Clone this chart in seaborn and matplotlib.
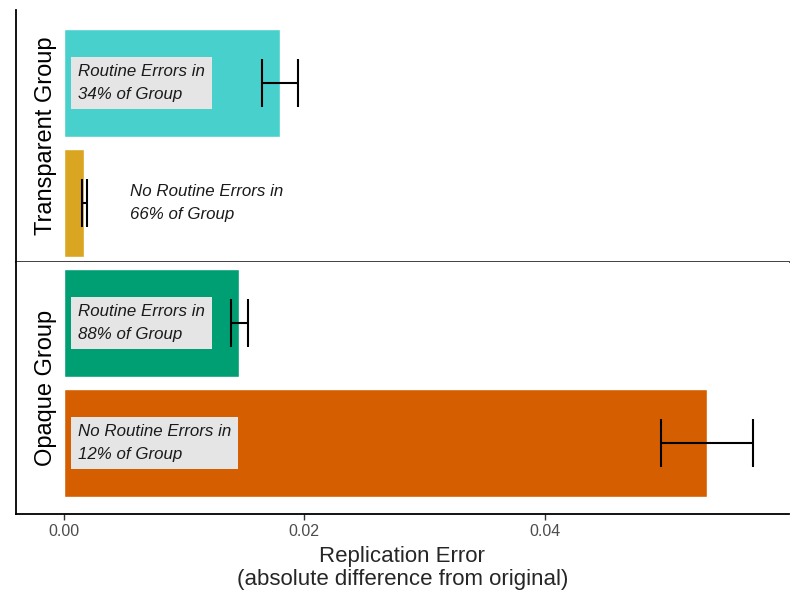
import numpy as np
import pandas as pd
import matplotlib
matplotlib.use("Agg")
import matplotlib.pyplot as plt
import seaborn as sns

# values
groups = ["Transparent Group", "Transparent Group", "Opaque Group", "Opaque Group"]
conditions = ["Routine Errors", "No Routine Errors", "Routine Errors", "No Routine Errors"]
error_mean = [0.0180, 0.0017, 0.0146, 0.0535]
error_se = [0.0015, 0.0002, 0.0007, 0.0038]
group_pct = [34, 66, 88, 12]
bar_colors = ["#48D1CC", "#DAA520", "#009E73", "#D55E00"]
label_x = [0.00116, 0.0055, 0.00116, 0.00116]
label_boxed = [True, False, True, True]
x_ticks = [0.00, 0.02, 0.04]

df = pd.DataFrame({
    "group": groups,
    "condition": conditions,
    "error": error_mean,
    "se": error_se,
    "pct": group_pct,
    "color": bar_colors,
    "lx": label_x,
    "boxed": label_boxed,
})

sns.set_style("white")
plt.rcParams["font.family"] = ["Liberation Sans", "DejaVu Sans"]

fig, axes = plt.subplots(2, 1, figsize=(8, 6), dpi=100, sharex=True)
fig.subplots_adjust(left=0.02, right=0.986, top=0.983, bottom=0.143, hspace=0)

panel_ylims = [(1.496, -0.604), (1.596, -0.508)]

for ax, grp, ylim in zip(axes, ["Transparent Group", "Opaque Group"], panel_ylims):
    sub = df[df["group"] == grp].reset_index(drop=True)
    sns.barplot(data=sub, x="error", y="condition", hue="condition",
                palette=dict(zip(sub["condition"], sub["color"])),
                order=list(sub["condition"]), orient="h", width=0.9,
                saturation=1, legend=False, errorbar=None, ax=ax)
    ax.errorbar(sub["error"], np.arange(len(sub)), xerr=sub["se"], fmt="none",
                ecolor="black", elinewidth=1.5, capsize=17, capthick=1.5, zorder=5)
    for i, row in sub.iterrows():
        txt = f"{row['condition']} in\n{row['pct']}% of Group"
        box = dict(boxstyle="square,pad=0.42", facecolor="#e5e5e5", edgecolor="none") if row["boxed"] else None
        ax.text(row["lx"], i, txt, ha="left", va="center", fontsize=12.2,
                style="italic", linespacing=1.65, color="#1a1a1a", bbox=box, zorder=6)
    ax.set_ylim(*ylim)
    ax.set_xlim(-0.00399, 0.0603)
    ax.set_ylabel("")
    ax.set_yticks([])
    ax.text(0.0385, 0.5, grp, transform=ax.transAxes, rotation=90,
            ha="center", va="center", fontsize=17, color="black")
    for side in ["top", "right"]:
        ax.spines[side].set_visible(False)
    for side in ["left", "bottom"]:
        ax.spines[side].set_color("black")
        ax.spines[side].set_linewidth(1.3)

axes[0].spines["bottom"].set_color("#333333")
axes[0].tick_params(axis="x", bottom=False, labelbottom=False)
axes[0].set_xlabel("")
axes[1].set_xticks(x_ticks)
axes[1].set_xticklabels(["0.00", "0.02", "0.04"])
axes[1].tick_params(axis="x", bottom=True, length=4, width=1, color="#333333",
                    labelsize=11.5, labelcolor="#4d4d4d", pad=3)
axes[1].set_xlabel("Replication Error\n(absolute difference from original)",
                   fontsize=16, linespacing=1.15, labelpad=5)

fig.savefig("out.png", dpi=100)
